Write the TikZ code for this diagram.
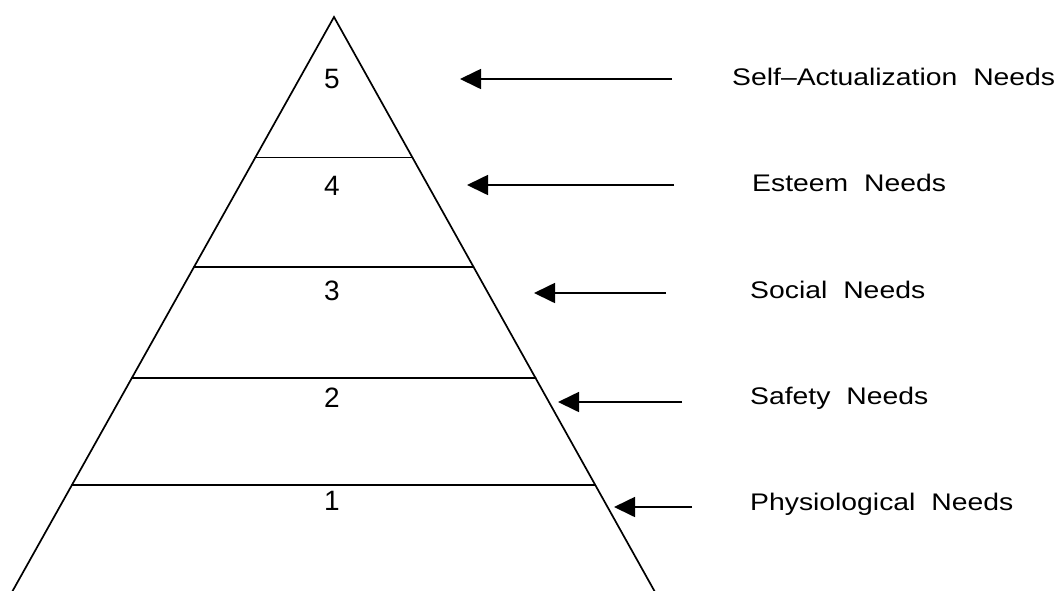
\documentclass[tikz,border=0pt]{standalone}
\usepackage{fontspec}
\setmainfont{Liberation Sans}
\newfontfamily\lblfont[FakeStretch=1.18]{Liberation Sans}
\usetikzlibrary{arrows.meta,calc}
\begin{document}
\begin{tikzpicture}[x=1pt,y=-1pt,
  edge/.style={line width=1.7pt,line cap=round},
  arr/.style={line width=1.7pt,-{Triangle[length=21pt,width=20pt]}},
  num/.style={inner sep=0pt,anchor=base,font=\fontsize{28}{28}\selectfont},
  lbl/.style={inner sep=0pt,anchor=base west,font=\lblfont\fontsize{24}{24}\selectfont}]
\useasboundingbox (0,0) rectangle (1056,590);
\coordinate (apex) at (334,17);
\coordinate (bl) at (12,592);
\coordinate (br) at (655,592);
\draw[edge] (bl) -- (apex) -- (br);
\foreach \t/\n in {0.2443/a,0.4346/b,0.6283/c,0.8133/d}{
  \coordinate (l\n) at ($(apex)!\t!(bl)$);
  \coordinate (r\n) at ($(apex)!\t!(br)$);
  \draw[edge] (l\n) -- (r\n);
}
\node[num] (n5) at (332,88) {5};
\node[num] (n4) at (332,195) {4};
\node[num] (n3) at (332,300) {3};
\node[num] (n2) at (332,407) {2};
\node[num] (n1) at (332,510) {1};
\node[lbl] (t5) at (732,85) {Self–Actualization\hspace{16pt}Needs};
\node[lbl] (t4) at (752,191) {Esteem\hspace{16pt}Needs};
\node[lbl] (t3) at (750,298) {Social\hspace{16pt}Needs};
\node[lbl] (t2) at (750,404) {Safety\hspace{16pt}Needs};
\node[lbl] (t1) at (750,510) {Physiological\hspace{16pt}Needs};
\coordinate (s5) at (672,79); \coordinate (e5) at (460,79);
\coordinate (s4) at (674,185); \coordinate (e4) at (467,185);
\coordinate (s3) at (666,293); \coordinate (e3) at (534,293);
\coordinate (s2) at (682,402); \coordinate (e2) at (558,402);
\coordinate (s1) at (692,507); \coordinate (e1) at (614,507);
\foreach \i in {1,...,5}{\draw[arr] (s\i) -- (e\i);}
\end{tikzpicture}
\end{document}
